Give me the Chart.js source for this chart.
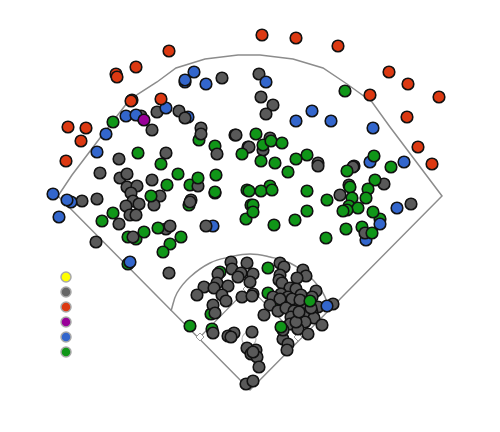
<!DOCTYPE html>
<html><head><meta charset="utf-8">
<style>html,body{margin:0;padding:0;background:#fff}#w{width:500px;height:432px}</style>
<script src="https://cdn.jsdelivr.net/npm/chart.js@4/dist/chart.umd.min.js"></script>
</head><body><div id="w"><canvas id="c" width="500" height="432"></canvas></div>
<script>
const fieldOutline=[[58,196],[72,175],[100,138],[127,103],[138,94],[157,82],[176,68],[205,59],[238,55],[260,55],[293,59],[323,68],[347,84],[372,102],[390,127],[442,196],[250,390],[58,196]];
const infieldArc=[[171,311],[177,293],[190,277],[210,263],[230,257],[250,254],[270,257],[290,263],[310,277],[323,293],[328,305]];
const basePath=[[200,337],[249,287],[298,337]];
const bases=[[200,337],[247,289],[298,337]];
const mound=[[249,339]];
const legendKeys=[[66,277],[66,292],[66,307],[66,322],[66,337],[66,352]];
const legendColors=['#ffff00','#666666','#dc3912','#990099','#3366cc','#109618'];
const greenUnder=[[220,272],[211,314],[212,329],[199,140],[215,146],[128,237],[136,239],[128,264],[190,185],[268,293],[274,302],[380,219],[362,227],[189,205]];
const blueUnder=[[188,117],[185,82],[213,226],[366,240],[370,162]];
const gray=[[222,78],[157,112],[179,111],[185,118],[152,130],[201,128],[201,134],[235,135],[236,135],[217,154],[248,147],[166,153],[119,159],[100,173],[120,178],[127,174],[152,180],[127,187],[137,186],[198,186],[131,193],[160,196],[191,200],[215,193],[190,202],[82,201],[97,199],[133,201],[139,204],[126,206],[154,205],[130,215],[136,215],[119,224],[166,229],[170,226],[133,237],[206,226],[96,242],[169,273],[141,116],[259,74],[261,97],[273,105],[266,114],[270,138],[249,147],[263,150],[318,163],[318,166],[354,166],[353,167],[384,184],[349,185],[340,195],[411,204],[365,233],
[231,262],[247,263],[232,269],[241,273],[238,277],[253,274],[250,282],[218,274],[217,283],[204,287],[228,286],[214,288],[222,295],[226,301],[197,295],[213,305],[215,313],[242,297],[253,294],[252,296],[213,333],[234,333],[228,336],[231,337],[252,332],[247,348],[256,350],[251,354],[257,357],[253,352],[259,367],[246,384],[253,381],[264,315],
[280,263],[284,267],[303,270],[280,275],[306,276],[297,278],[279,280],[282,283],[290,288],[296,289],[316,291],[281,294],[273,297],[288,297],[301,295],[292,299],[280,299],[312,297],[270,305],[278,311],[286,308],[294,311],[303,304],[318,307],[333,304],[312,312],[305,314],[291,317],[314,318],[305,322],[290,324],[322,325],[298,329],[283,339],[308,334],[288,344],[287,350],[283,330],[300,300],[296,322],[311,308],[299,312]];
const blue=[[185,80],[194,72],[206,84],[166,108],[126,116],[136,115],[106,134],[97,152],[53,194],[71,202],[67,200],[59,217],[266,82],[312,111],[296,121],[331,121],[373,128],[404,162],[397,208],[380,224],[327,306],[130,262]];
const green=[[113,122],[138,153],[161,164],[178,174],[198,178],[216,175],[167,185],[151,196],[215,192],[113,213],[242,154],[247,190],[251,205],[246,219],[102,221],[144,232],[158,228],[181,237],[170,244],[163,252],[345,91],[256,134],[263,145],[271,141],[282,143],[307,155],[296,159],[261,161],[275,163],[288,172],[374,156],[391,167],[347,171],[375,180],[368,189],[366,198],[350,187],[352,198],[307,191],[327,200],[270,186],[261,191],[272,190],[249,191],[253,205],[253,212],[349,206],[358,208],[347,210],[343,211],[373,212],[307,211],[295,220],[274,225],[326,238],[346,229],[372,233],[268,268],[310,301],[281,327],[190,326]];
const red=[[169,51],[136,67],[116,74],[117,77],[132,100],[131,101],[161,99],[68,127],[86,128],[81,141],[66,161],[262,35],[296,38],[338,46],[389,72],[408,84],[439,97],[370,95],[407,117],[418,147],[432,164]];
const purple=[[144,120]];

const xy=a=>a.map(p=>({x:p[0],y:p[1]}));
const lineDs=(pts,extra)=>Object.assign({type:'scatter',data:xy(pts),showLine:true,pointRadius:0,borderColor:'#8c8c8c',borderWidth:1.5,tension:0,fill:false},extra);
const dots=(pts,col)=>({type:'scatter',data:xy(pts),showLine:false,pointRadius:5.8,pointBorderWidth:1.6,pointBackgroundColor:col,pointBorderColor:'#111'});
const layers=[
 lineDs(fieldOutline,{fill:true,backgroundColor:'#f8f9fb'}),
 lineDs(infieldArc,{tension:0.4}),
 lineDs(basePath,{borderWidth:1.2}),
 {type:'scatter',data:xy(bases),showLine:false,pointStyle:'rectRot',pointRadius:4,pointBorderWidth:1,pointBackgroundColor:'#fff',pointBorderColor:'#999'},
 {type:'scatter',data:xy(mound),showLine:false,pointRadius:7,pointBorderWidth:1.2,pointBackgroundColor:'#fff',pointBorderColor:'#bbb'},
 {type:'scatter',data:xy(legendKeys),showLine:false,pointRadius:5,pointBorderWidth:1.5,pointBackgroundColor:legendColors,pointBorderColor:'#a8a8a8'},
 dots(greenUnder,'#109618'),
 dots(blueUnder,'#3366cc'),
 dots(gray,'#595959'),
 dots(blue,'#3366cc'),
 dots(green,'#109618'),
 dots(red,'#dc3912'),
 dots(purple,'#990099')
];
layers.forEach((d,i)=>{d.order=layers.length-i;d.clip=false;});
new Chart(document.getElementById('c'),{
 type:'scatter',
 data:{datasets:layers},
 options:{responsive:false,animation:false,layout:{padding:0,autoPadding:false},
  plugins:{legend:{display:false},tooltip:{enabled:false},title:{display:false}},
  scales:{x:{type:'linear',min:0,max:500,display:false},y:{type:'linear',min:0,max:432,reverse:true,display:false}}}
});
</script></body></html>
